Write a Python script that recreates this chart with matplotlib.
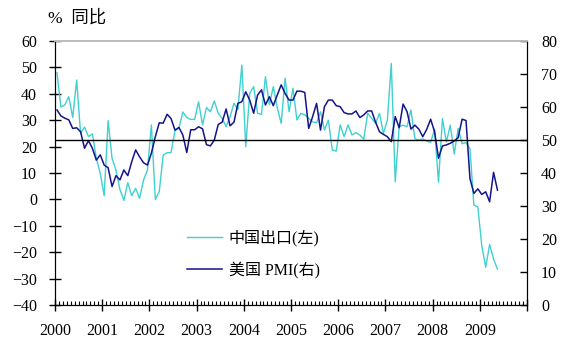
"""China exports vs US PMI, monthly 2000-2009."""

import matplotlib

matplotlib.use("Agg", force=True)
import matplotlib.pyplot as plt
from matplotlib.ticker import MultipleLocator

# monthly values, Jan 2000 .. May 2009
china_exports = [
    48.0, 35.0, 35.8, 38.9, 31.0, 45.2, 25.0, 27.4, 23.8, 24.8, 15.6, 9.9,
    1.4, 29.8, 15.6, 11.1, 3.8, -0.4, 6.3, 1.4, 4.2, 0.4, 7.3, 11.1,
    28.2, 0.0, 2.9, 16.8, 17.7, 17.7, 26.0, 27.0, 33.1, 31.0, 30.3, 30.3,
    37.0, 28.2, 34.8, 33.2, 37.3, 32.6, 30.7, 27.5, 31.3, 36.4, 34.0, 50.9,
    20.0, 40.2, 42.7, 32.6, 32.2, 46.5, 35.8, 42.7, 34.8, 28.8, 45.9, 33.2,
    42.1, 30.1, 32.6, 32.0, 30.7, 29.4, 29.0, 33.2, 26.3, 30.0, 18.7, 18.3,
    28.2, 23.8, 28.2, 24.4, 25.3, 24.4, 22.8, 32.6, 30.7, 28.8, 32.6, 25.0,
    30.0, 51.5, 6.7, 27.5, 28.1, 27.5, 33.9, 22.9, 22.5, 22.9, 22.1, 21.6,
    26.6, 6.5, 30.6, 21.8, 28.1, 17.2, 26.9, 21.1, 21.5, 19.2, -2.2, -2.8,
    -17.5, -25.7, -17.1, -22.6, -26.4,
]
us_pmi = [
    59.1, 57.3, 56.6, 56.1, 53.5, 53.7, 52.5, 47.5, 49.8, 47.5, 43.9, 45.5,
    42.4, 41.6, 35.9, 39.2, 37.9, 40.9, 39.2, 43.4, 47.0, 44.9, 43.1, 42.4,
    46.0, 51.0, 55.2, 55.1, 57.8, 56.5, 53.0, 53.8, 51.5, 46.2, 53.1, 53.1,
    54.0, 53.4, 48.6, 48.2, 50.0, 54.7, 55.4, 59.4, 54.3, 55.4, 61.1, 61.6,
    64.6, 62.1, 58.1, 63.6, 65.2, 60.6, 63.1, 60.4, 63.6, 66.7, 64.1, 62.1,
    62.1, 64.8, 64.8, 64.4, 53.5, 57.1, 61.1, 53.0, 60.1, 62.1, 62.1, 60.4,
    60.1, 58.3, 57.9, 57.9, 58.8, 56.8, 57.6, 58.8, 58.8, 55.4, 52.5, 51.7,
    51.0, 49.5, 57.1, 53.7, 60.9, 58.6, 53.3, 54.5, 53.3, 51.0, 53.2, 56.3,
    52.5, 44.5, 48.2, 48.5, 49.0, 49.7, 50.7, 56.3, 55.9, 38.3, 33.8, 35.2,
    33.5, 34.3, 31.3, 40.2, 34.8,
]
years = list(range(2000, 2011))
year_labels = [str(y) for y in range(2000, 2010)] + [""]

plt.rcParams["font.family"] = ["Liberation Serif", "Noto Sans CJK SC"]
plt.rcParams["font.size"] = 11.5

# each month sits in the middle of its slot
months_x = [2000 + (i + 0.5) / 12 for i in range(len(china_exports))]

fig = plt.figure(figsize=(5.62, 3.41), dpi=100)
ax = fig.add_axes([0.0979, 0.1056, 0.8398, 0.7742])
ax2 = ax.twinx()

l1, = ax.plot(months_x, china_exports, color="#3fd0d0", linewidth=1.0,
              label="中国出口(左)")
l2, = ax2.plot(months_x, us_pmi, color="#14148c", linewidth=1.1,
               label="美国 PMI(右)")
ax2.axhline(50, color="black", linewidth=1.0)

ax.set_xlim(2000, 2010)
ax.set_ylim(-40, 60)
ax2.set_ylim(0, 80)
ax.set_xticks(years)
ax.set_xticklabels(year_labels)
ax.xaxis.set_minor_locator(MultipleLocator(1 / 12))
ax.yaxis.set_major_locator(MultipleLocator(10))
ax2.yaxis.set_major_locator(MultipleLocator(10))

ax.tick_params(axis="y", direction="inout", length=8, width=1, pad=9)
ax.tick_params(axis="x", which="major", direction="inout", length=8, width=1, pad=9)
ax.tick_params(axis="x", which="minor", direction="in", length=3, width=0.8)
ax2.tick_params(axis="y", direction="in", length=5, width=1, pad=10)

for a in (ax, ax2):
    a.spines["top"].set_color("#bdbdbd")
    a.spines["top"].set_linewidth(1.3)
    for side in ("left", "right", "bottom"):
        a.spines[side].set_color("black")

ax2.legend(handles=[l1, l2], loc="upper left", bbox_to_anchor=(0.28, 0.285),
           frameon=False, borderpad=0, borderaxespad=0, handlelength=2.2,
           handletextpad=0.4, labelspacing=0.95)

fig.text(0.085, 0.945, "%  同比", fontsize=12.5, va="center")

fig.savefig("out.png", dpi=100)
plt.close(fig)
